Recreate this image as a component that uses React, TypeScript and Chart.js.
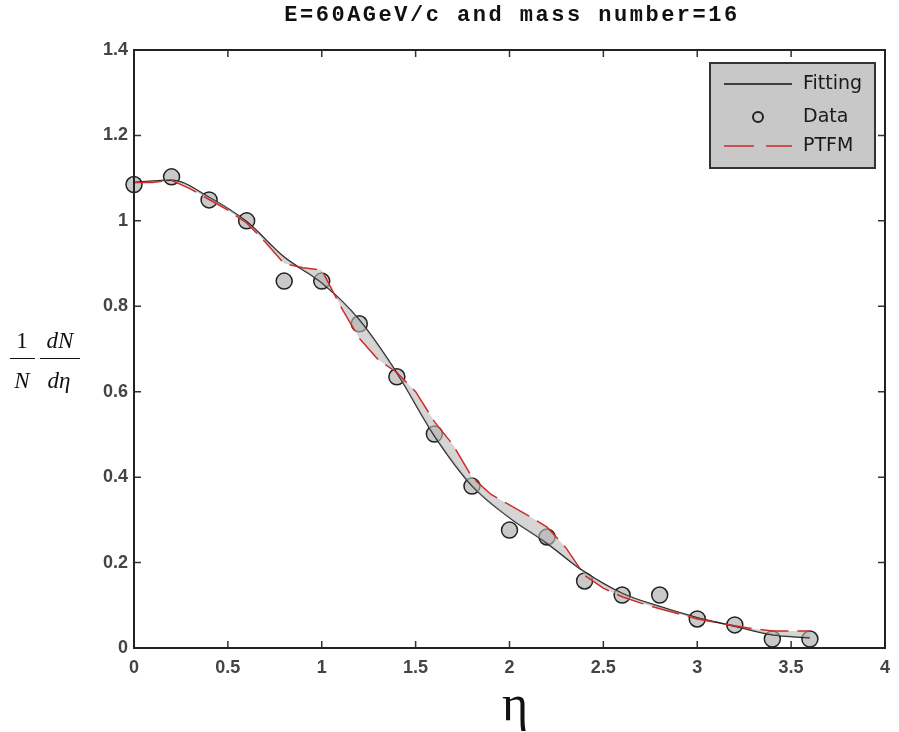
import React, { useEffect, useRef } from 'react';
import { Chart, registerables } from 'chart.js';

Chart.register(...registerables);

const titleText = 'E=60AGeV/c and mass number=16';
const xAxisLabel = 'η';
const legendLabels = ['Fitting', 'Data', 'PTFM'];

const etaPoints = [0, 0.2, 0.4, 0.6, 0.8, 1.0, 1.2, 1.4, 1.6, 1.8, 2.0, 2.2, 2.4, 2.6, 2.8, 3.0, 3.2, 3.4, 3.6];
const dataValues = [1.085, 1.103, 1.049, 1.0, 0.859, 0.859, 0.759, 0.635, 0.501, 0.379, 0.276, 0.26, 0.157, 0.124, 0.124, 0.068, 0.054, 0.021, 0.021];
const fittingValues = [1.09, 1.095, 1.055, 0.998, 0.915, 0.855, 0.768, 0.644, 0.497, 0.38, 0.305, 0.245, 0.178, 0.128, 0.097, 0.071, 0.051, 0.031, 0.024];

const ptfmEta = [0, 0.1, 0.2, 0.3, 0.4, 0.5, 0.6, 0.7, 0.8, 0.9, 1.0, 1.1, 1.2, 1.3, 1.4, 1.5, 1.6, 1.7, 1.8, 1.9, 2.0, 2.1, 2.2, 2.3, 2.4, 2.5, 2.6, 2.7, 2.8, 2.9, 3.0, 3.1, 3.2, 3.3, 3.4, 3.5, 3.6];
const ptfmValues = [1.09, 1.09, 1.095, 1.075, 1.05, 1.025, 0.995, 0.95, 0.9, 0.89, 0.885, 0.8, 0.725, 0.675, 0.645, 0.6, 0.53, 0.475, 0.4, 0.36, 0.335, 0.31, 0.283, 0.235, 0.17, 0.14, 0.12, 0.105, 0.092, 0.08, 0.068, 0.06, 0.052, 0.045, 0.04, 0.04, 0.04];

const xMin = 0, xMax = 4, xStep = 0.5;
const yMin = 0, yMax = 1.4, yStep = 0.2;

const fmt = (v: number) => String(Math.round(v * 10) / 10);

const decorPlugin = {
  id: 'decor',
  afterDraw(chart: any) {
    const { ctx, chartArea: a, scales } = chart;
    ctx.save();
    // inward ticks
    ctx.strokeStyle = '#333';
    ctx.lineWidth = 1.5;
    const tl = 7;
    scales.x.ticks.forEach((t: any) => {
      const px = scales.x.getPixelForValue(t.value);
      ctx.beginPath();
      ctx.moveTo(px, a.bottom); ctx.lineTo(px, a.bottom - tl);
      ctx.moveTo(px, a.top); ctx.lineTo(px, a.top + tl);
      ctx.stroke();
    });
    scales.y.ticks.forEach((t: any) => {
      const py = scales.y.getPixelForValue(t.value);
      ctx.beginPath();
      ctx.moveTo(a.left, py); ctx.lineTo(a.left + tl, py);
      ctx.moveTo(a.right, py); ctx.lineTo(a.right - tl, py);
      ctx.stroke();
    });
    // frame
    ctx.strokeStyle = '#222';
    ctx.lineWidth = 2;
    ctx.strokeRect(a.left, a.top, a.right - a.left, a.bottom - a.top);

    // title
    ctx.fillStyle = '#111';
    ctx.font = 'bold 22px "Liberation Mono"';
    ctx.textAlign = 'center';
    ctx.textBaseline = 'middle';
    (ctx as any).letterSpacing = '2.5px';
    ctx.fillText(titleText, 512, 15);
    (ctx as any).letterSpacing = '0px';

    // x axis title
    ctx.font = '50px "Liberation Serif"';
    ctx.textBaseline = 'alphabetic';
    ctx.fillText(xAxisLabel, 515, 720);

    // y axis label as fraction
    ctx.font = '23px "Liberation Serif"';
    ctx.fillText('1', 22, 348);
    ctx.font = 'italic 23px "Liberation Serif"';
    ctx.fillText('N', 22, 388);
    ctx.fillText('dN', 60, 348);
    ctx.fillText('dη', 59, 388);
    ctx.strokeStyle = '#111';
    ctx.lineWidth = 1.2;
    ctx.beginPath();
    ctx.moveTo(10, 358.5); ctx.lineTo(35, 358.5);
    ctx.moveTo(40, 358.5); ctx.lineTo(80, 358.5);
    ctx.stroke();

    // legend
    const lx = 710, ly = 63, lw = 165, lh = 105;
    ctx.fillStyle = '#c8c8c8';
    ctx.fillRect(lx, ly, lw, lh);
    ctx.strokeStyle = '#333';
    ctx.lineWidth = 2;
    ctx.strokeRect(lx, ly, lw, lh);
    const rows = [84, 117, 146];
    ctx.strokeStyle = '#111';
    ctx.lineWidth = 1.5;
    ctx.beginPath();
    ctx.moveTo(724, rows[0]); ctx.lineTo(792, rows[0]);
    ctx.stroke();
    ctx.beginPath();
    ctx.arc(758, rows[1], 5, 0, Math.PI * 2);
    ctx.lineWidth = 2;
    ctx.strokeStyle = '#222';
    ctx.stroke();
    ctx.strokeStyle = '#d02a2a';
    ctx.lineWidth = 1.5;
    ctx.beginPath();
    ctx.moveTo(724, rows[2]); ctx.lineTo(754, rows[2]);
    ctx.moveTo(766, rows[2]); ctx.lineTo(792, rows[2]);
    ctx.stroke();
    ctx.fillStyle = '#1a1a1a';
    ctx.font = '19px "DejaVu Sans"';
    ctx.textAlign = 'left';
    ctx.textBaseline = 'middle';
    legendLabels.forEach((lab, i) => ctx.fillText(lab, 803, rows[i]));
    ctx.restore();
  },
};

export default function App() {
  const ref = useRef<HTMLCanvasElement | null>(null);
  useEffect(() => {
    if (!ref.current) return;
    const chart = new Chart(ref.current, {
      type: 'scatter',
      data: {
        datasets: [
          {
            label: 'Data',
            data: etaPoints.map((x, i) => ({ x, y: dataValues[i] })),
            showLine: false,
            pointRadius: 8,
            pointBorderWidth: 1.5,
            pointBackgroundColor: 'rgba(195,195,195,0.9)',
            pointBorderColor: '#222',
            order: 2,
            clip: false,
          } as any,
          {
            label: 'Fitting',
            data: etaPoints.map((x, i) => ({ x, y: fittingValues[i] })),
            showLine: true,
            pointRadius: 0,
            borderColor: '#151515',
            borderWidth: 1.5,
            cubicInterpolationMode: 'monotone',
            order: 1,
          } as any,
          {
            label: 'PTFM',
            data: ptfmEta.map((x, i) => ({ x, y: ptfmValues[i] })),
            showLine: true,
            pointRadius: 0,
            borderColor: '#d02a2a',
            borderWidth: 1.5,
            borderDash: [28, 9],
            tension: 0,
            fill: { target: 1, above: 'rgba(185,185,185,0.6)', below: 'rgba(185,185,185,0.6)' },
            order: 0,
          } as any,
        ],
      },
      options: {
        animation: false,
        responsive: false,
        maintainAspectRatio: false,
        layout: { padding: { top: 50, right: 9, left: 0, bottom: 0 } },
        plugins: {
          legend: { display: false },
          tooltip: { enabled: false },
          title: { display: false },
        },
        scales: {
          x: {
            type: 'linear',
            min: xMin,
            max: xMax,
            ticks: {
              stepSize: xStep,
              padding: 9,
              color: '#444',
              font: { family: '"Liberation Sans", Arial', size: 18, weight: 'bold' },
              callback: (v: any) => fmt(Number(v)),
            },
            grid: { display: false, drawTicks: false },
            border: { display: false },
            afterFit: (s: any) => { s.height = 84; },
          },
          y: {
            type: 'linear',
            min: yMin,
            max: yMax,
            ticks: {
              stepSize: yStep,
              padding: 6,
              color: '#444',
              font: { family: '"Liberation Sans", Arial', size: 18, weight: 'bold' },
              callback: (v: any) => fmt(Number(v)),
            },
            grid: { display: false, drawTicks: false },
            border: { display: false },
            afterFit: (s: any) => { s.width = 134; },
          },
        },
      } as any,
      plugins: [decorPlugin],
    });
    return () => chart.destroy();
  }, []);
  return (
    <div style={{ position: 'fixed', left: 0, top: 0, width: 899, height: 732, background: '#fff' }}>
      <canvas ref={ref} width={899} height={732} style={{ width: 899, height: 732, display: 'block' }} />
    </div>
  );
}
